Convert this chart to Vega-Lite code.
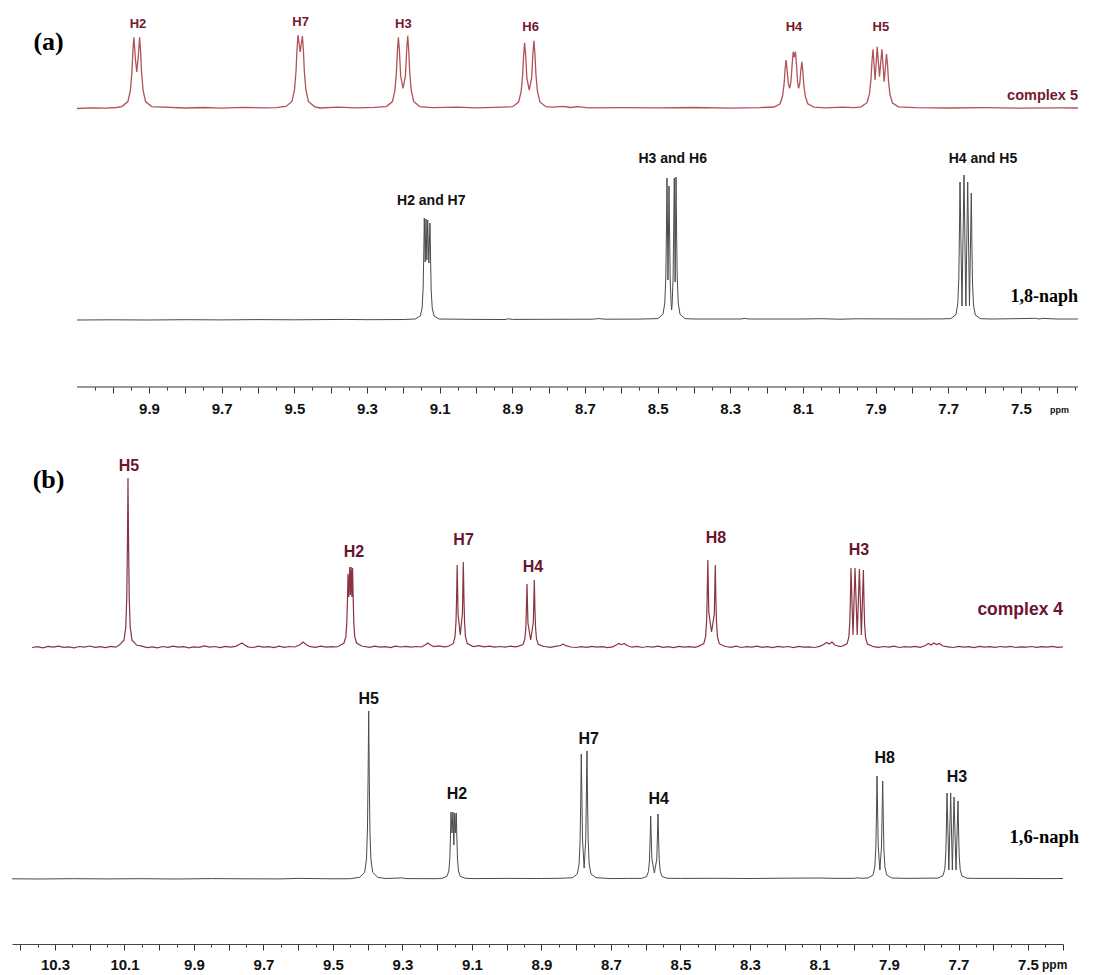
{
  "$schema": "https://vega.github.io/schema/vega-lite/v6.json",
  "background": "white",
  "padding": {"left": 10, "top": 8, "right": 0, "bottom": 0},
  "bounds": "flush",
  "spacing": 68,
  "config": {"view": {"stroke": null}},
  "datasets": {
    "c5": [
      {"ppm":10.0982,"intensity":276.5},{"ppm":10.06,"intensity":277.2},{"ppm":10.02,"intensity":276.8},{"ppm":9.99,"intensity":277.5},
      {"ppm":9.9746,"intensity":278.4},{"ppm":9.9581,"intensity":283.4},{"ppm":9.9512,"intensity":294.7},{"ppm":9.9471,"intensity":312.4},{"ppm":9.9444,"intensity":333.6},{"ppm":9.9416,"intensity":347.7},{"ppm":9.9376,"intensity":327},{"ppm":9.9337,"intensity":313},{"ppm":9.9298,"intensity":327},{"ppm":9.9259,"intensity":347.7},{"ppm":9.9231,"intensity":333.6},{"ppm":9.9204,"intensity":312.4},{"ppm":9.9163,"intensity":294.7},{"ppm":9.9094,"intensity":283.4},{"ppm":9.8929,"intensity":278.4},
      {"ppm":9.8,"intensity":277},{"ppm":9.75,"intensity":277.5},{"ppm":9.7,"intensity":276.8},{"ppm":9.64,"intensity":277.6},{"ppm":9.58,"intensity":277.1},{"ppm":9.55,"intensity":277.4},
      {"ppm":9.5229,"intensity":278.5},{"ppm":9.5064,"intensity":283.6},{"ppm":9.4995,"intensity":295},{"ppm":9.4954,"intensity":313.5},{"ppm":9.4927,"intensity":335},{"ppm":9.4899,"intensity":350},{"ppm":9.4838,"intensity":333},{"ppm":9.4778,"intensity":349},{"ppm":9.475,"intensity":334.6},{"ppm":9.4723,"intensity":313},{"ppm":9.4682,"intensity":295},{"ppm":9.4613,"intensity":283.5},{"ppm":9.4448,"intensity":278.4},
      {"ppm":9.43,"intensity":277},{"ppm":9.38,"intensity":277.8},{"ppm":9.33,"intensity":277.2},{"ppm":9.28,"intensity":277.6},
      {"ppm":9.2465,"intensity":278.4},{"ppm":9.23,"intensity":283.4},{"ppm":9.2231,"intensity":294.7},{"ppm":9.219,"intensity":312.4},{"ppm":9.2163,"intensity":333.6},{"ppm":9.2135,"intensity":347.7},{"ppm":9.2107,"intensity":334},{"ppm":9.2072,"intensity":309},{"ppm":9.2007,"intensity":296.7},{"ppm":9.1942,"intensity":309},{"ppm":9.1907,"intensity":335},{"ppm":9.1879,"intensity":349.3},{"ppm":9.1851,"intensity":334.8},{"ppm":9.1824,"intensity":313},{"ppm":9.1783,"intensity":295},{"ppm":9.1714,"intensity":283.5},{"ppm":9.1549,"intensity":278.4},
      {"ppm":9.12,"intensity":277.3},{"ppm":9.05,"intensity":277.9},{"ppm":9.0,"intensity":277.2},{"ppm":8.95,"intensity":277.6},
      {"ppm":8.8991,"intensity":278.3},{"ppm":8.8826,"intensity":282.9},{"ppm":8.8757,"intensity":293.3},{"ppm":8.8716,"intensity":309.7},{"ppm":8.8689,"intensity":329.2},{"ppm":8.8661,"intensity":342.3},{"ppm":8.8633,"intensity":329.6},{"ppm":8.8598,"intensity":306.5},{"ppm":8.8533,"intensity":295},{"ppm":8.8468,"intensity":307},{"ppm":8.8433,"intensity":331},{"ppm":8.8405,"intensity":344.3},{"ppm":8.8377,"intensity":330.8},{"ppm":8.835,"intensity":310.7},{"ppm":8.8309,"intensity":293.8},{"ppm":8.824,"intensity":283},{"ppm":8.8075,"intensity":278.3},
      {"ppm":8.79,"intensity":277.8},{"ppm":8.76,"intensity":278.6},{"ppm":8.74,"intensity":277.5},{"ppm":8.72,"intensity":278.3},{"ppm":8.69,"intensity":277.2},{"ppm":8.6,"intensity":277.4},{"ppm":8.5,"intensity":277.1},{"ppm":8.4,"intensity":277.5},{"ppm":8.3,"intensity":276.9},{"ppm":8.22,"intensity":277.4},
      {"ppm":8.1794,"intensity":278},{"ppm":8.1629,"intensity":281.3},{"ppm":8.156,"intensity":289},{"ppm":8.1519,"intensity":301},{"ppm":8.1492,"intensity":315.4},{"ppm":8.1464,"intensity":325},{"ppm":8.1436,"intensity":315},{"ppm":8.1401,"intensity":301},{"ppm":8.1366,"intensity":296.7},{"ppm":8.1331,"intensity":303},{"ppm":8.1296,"intensity":321},{"ppm":8.1268,"intensity":333.3},{"ppm":8.1238,"intensity":328},{"ppm":8.1207,"intensity":333.3},{"ppm":8.1179,"intensity":321},{"ppm":8.1149,"intensity":303},{"ppm":8.1119,"intensity":296.7},{"ppm":8.1089,"intensity":301},{"ppm":8.1059,"intensity":314},{"ppm":8.1031,"intensity":323.3},{"ppm":8.1003,"intensity":314},{"ppm":8.0976,"intensity":300},{"ppm":8.0935,"intensity":288.6},{"ppm":8.0866,"intensity":281.2},{"ppm":8.0701,"intensity":277.9},
      {"ppm":8.04,"intensity":277.2},{"ppm":7.99,"intensity":277.9},{"ppm":7.96,"intensity":277.3},
      {"ppm":7.9401,"intensity":278.2},{"ppm":7.9236,"intensity":282.3},{"ppm":7.9167,"intensity":291.7},{"ppm":7.9126,"intensity":306.4},{"ppm":7.9099,"intensity":324},{"ppm":7.9071,"intensity":335.7},{"ppm":7.9014,"intensity":305},{"ppm":7.8956,"intensity":338.3},{"ppm":7.8892,"intensity":308.3},{"ppm":7.8827,"intensity":335.7},{"ppm":7.8764,"intensity":303.3},{"ppm":7.87,"intensity":331},{"ppm":7.8672,"intensity":320.2},{"ppm":7.8645,"intensity":304},{"ppm":7.8604,"intensity":290.5},{"ppm":7.8535,"intensity":281.9},{"ppm":7.837,"intensity":278.1},
      {"ppm":7.79,"intensity":277.4},{"ppm":7.7,"intensity":277},{"ppm":7.6,"intensity":277.3},{"ppm":7.5,"intensity":276.9},{"ppm":7.4,"intensity":277.2},{"ppm":7.3429,"intensity":277}
    ],
    "n18": [
      {"ppm":10.0982,"intensity":65},{"ppm":10.0,"intensity":65.2},{"ppm":9.9,"intensity":65},{"ppm":9.8,"intensity":65.3},{"ppm":9.7,"intensity":65.1},{"ppm":9.6,"intensity":65.4},{"ppm":9.5,"intensity":65.2},{"ppm":9.36,"intensity":65.6},{"ppm":9.3,"intensity":65.3},{"ppm":9.2,"intensity":65.5},
      {"ppm":9.1672,"intensity":66},{"ppm":9.1532,"intensity":69},{"ppm":9.1483,"intensity":77},{"ppm":9.1455,"intensity":96},{"ppm":9.1439,"intensity":126},{"ppm":9.1422,"intensity":167},{"ppm":9.1398,"intensity":123},{"ppm":9.1375,"intensity":166},{"ppm":9.1352,"intensity":125},{"ppm":9.1329,"intensity":165},{"ppm":9.1297,"intensity":122},{"ppm":9.1265,"intensity":162},{"ppm":9.1248,"intensity":123},{"ppm":9.1232,"intensity":94},{"ppm":9.1204,"intensity":77},{"ppm":9.1155,"intensity":69},{"ppm":9.1015,"intensity":66},
      {"ppm":9.0,"intensity":65.6},{"ppm":8.92,"intensity":65.5},{"ppm":8.91,"intensity":66.2},{"ppm":8.9,"intensity":65.6},{"ppm":8.8,"intensity":65.7},{"ppm":8.68,"intensity":65.8},{"ppm":8.662,"intensity":66.4},{"ppm":8.645,"intensity":65.8},{"ppm":8.55,"intensity":65.9},
      {"ppm":8.4992,"intensity":66.4},{"ppm":8.4852,"intensity":70.7},{"ppm":8.4803,"intensity":82},{"ppm":8.4775,"intensity":108},{"ppm":8.4759,"intensity":150},{"ppm":8.4742,"intensity":207},{"ppm":8.4715,"intensity":105},{"ppm":8.4687,"intensity":199},{"ppm":8.4654,"intensity":105},{"ppm":8.4628,"intensity":81},{"ppm":8.4614,"intensity":75},{"ppm":8.46,"intensity":81},{"ppm":8.4574,"intensity":108},{"ppm":8.4541,"intensity":207},{"ppm":8.4518,"intensity":103},{"ppm":8.4494,"intensity":208},{"ppm":8.4477,"intensity":151},{"ppm":8.4461,"intensity":108},{"ppm":8.4433,"intensity":82},{"ppm":8.4384,"intensity":70.7},{"ppm":8.4244,"intensity":66.4},
      {"ppm":8.4,"intensity":66},{"ppm":8.3,"intensity":66},{"ppm":8.27,"intensity":66},{"ppm":8.26,"intensity":66.6},{"ppm":8.25,"intensity":66},{"ppm":8.1,"intensity":66},{"ppm":8.05,"intensity":66.3},{"ppm":8.0,"intensity":65.8},{"ppm":7.95,"intensity":66.2},{"ppm":7.8,"intensity":66},{"ppm":7.72,"intensity":66.1},
      {"ppm":7.6927,"intensity":66.4},{"ppm":7.6787,"intensity":70.5},{"ppm":7.6738,"intensity":81.6},{"ppm":7.671,"intensity":106},{"ppm":7.6694,"intensity":148},{"ppm":7.6677,"intensity":203},{"ppm":7.6622,"intensity":79},{"ppm":7.6567,"intensity":210},{"ppm":7.6516,"intensity":79},{"ppm":7.6465,"intensity":203},{"ppm":7.6416,"intensity":79},{"ppm":7.6366,"intensity":192},{"ppm":7.6349,"intensity":141},{"ppm":7.6333,"intensity":103},{"ppm":7.6305,"intensity":80},{"ppm":7.6256,"intensity":70},{"ppm":7.6116,"intensity":66.3},
      {"ppm":7.58,"intensity":66},{"ppm":7.5,"intensity":66.4},{"ppm":7.46,"intensity":66.7},{"ppm":7.45,"intensity":66},{"ppm":7.44,"intensity":66.6},{"ppm":7.4,"intensity":66},{"ppm":7.3429,"intensity":66}
    ],
    "c4": [
      {"ppm":10.366,"intensity":296.5},{"ppm":10.35,"intensity":297.3},{"ppm":10.335,"intensity":296.2},{"ppm":10.32,"intensity":297.6},{"ppm":10.305,"intensity":296.8},{"ppm":10.29,"intensity":297.9},{"ppm":10.275,"intensity":296.6},{"ppm":10.26,"intensity":297.2},{"ppm":10.245,"intensity":296.1},{"ppm":10.23,"intensity":297.5},{"ppm":10.215,"intensity":296.9},{"ppm":10.2,"intensity":298},{"ppm":10.185,"intensity":296.7},{"ppm":10.17,"intensity":297.4},{"ppm":10.155,"intensity":296.3},{"ppm":10.14,"intensity":297.6},{"ppm":10.125,"intensity":296.8},
      {"ppm":10.1159,"intensity":298.7},{"ppm":10.1014,"intensity":303.8},{"ppm":10.0962,"intensity":317},{"ppm":10.0934,"intensity":347},{"ppm":10.0916,"intensity":398},{"ppm":10.0899,"intensity":466},{"ppm":10.0882,"intensity":398},{"ppm":10.0864,"intensity":347},{"ppm":10.0836,"intensity":317},{"ppm":10.0784,"intensity":303.8},{"ppm":10.0639,"intensity":298.7},
      {"ppm":10.05,"intensity":297.8},{"ppm":10.035,"intensity":296.4},{"ppm":10.02,"intensity":297.1},{"ppm":10.005,"intensity":296.2},{"ppm":9.99,"intensity":297.5},{"ppm":9.975,"intensity":296.6},{"ppm":9.96,"intensity":297.9},{"ppm":9.945,"intensity":296.8},{"ppm":9.93,"intensity":297.3},{"ppm":9.915,"intensity":296.1},{"ppm":9.9,"intensity":297.2},{"ppm":9.885,"intensity":296.7},{"ppm":9.87,"intensity":298.1},{"ppm":9.855,"intensity":296.9},{"ppm":9.84,"intensity":297.5},{"ppm":9.825,"intensity":296.4},{"ppm":9.81,"intensity":297.7},{"ppm":9.795,"intensity":296.9},{"ppm":9.78,"intensity":297.6},{"ppm":9.77,"intensity":299.5},{"ppm":9.762,"intensity":301},{"ppm":9.754,"intensity":299},{"ppm":9.745,"intensity":297.2},{"ppm":9.73,"intensity":296.5},{"ppm":9.715,"intensity":297.8},{"ppm":9.7,"intensity":296.9},{"ppm":9.685,"intensity":297.4},{"ppm":9.67,"intensity":296.3},{"ppm":9.655,"intensity":297.8},{"ppm":9.64,"intensity":296.7},{"ppm":9.625,"intensity":297.5},{"ppm":9.61,"intensity":297},{"ppm":9.596,"intensity":299},{"ppm":9.586,"intensity":302},{"ppm":9.576,"intensity":299},{"ppm":9.565,"intensity":297.3},{"ppm":9.55,"intensity":296.6},{"ppm":9.535,"intensity":297.8},{"ppm":9.52,"intensity":296.9},{"ppm":9.505,"intensity":297.4},{"ppm":9.49,"intensity":297},
      {"ppm":9.4828,"intensity":298},{"ppm":9.4683,"intensity":301},{"ppm":9.4631,"intensity":307},{"ppm":9.4603,"intensity":321},{"ppm":9.4585,"intensity":342},{"ppm":9.4568,"intensity":370},{"ppm":9.4544,"intensity":347},{"ppm":9.4519,"intensity":377},{"ppm":9.4498,"intensity":349},{"ppm":9.4476,"intensity":377},{"ppm":9.4456,"intensity":347},{"ppm":9.4436,"intensity":376},{"ppm":9.4419,"intensity":345},{"ppm":9.4401,"intensity":321},{"ppm":9.4373,"intensity":307},{"ppm":9.4321,"intensity":301},{"ppm":9.4176,"intensity":298},
      {"ppm":9.41,"intensity":297.5},{"ppm":9.395,"intensity":296.6},{"ppm":9.38,"intensity":297.8},{"ppm":9.365,"intensity":296.9},{"ppm":9.35,"intensity":297.3},{"ppm":9.335,"intensity":296.4},{"ppm":9.32,"intensity":297.9},{"ppm":9.305,"intensity":297},{"ppm":9.29,"intensity":297.6},{"ppm":9.275,"intensity":296.8},{"ppm":9.26,"intensity":297.5},{"ppm":9.245,"intensity":297},{"ppm":9.235,"intensity":299},{"ppm":9.227,"intensity":301},{"ppm":9.219,"intensity":299},{"ppm":9.21,"intensity":297.4},{"ppm":9.195,"intensity":298.2},{"ppm":9.18,"intensity":297.1},{"ppm":9.17,"intensity":297.6},
      {"ppm":9.1686,"intensity":297.8},{"ppm":9.1541,"intensity":300.3},{"ppm":9.1489,"intensity":307},{"ppm":9.1461,"intensity":322},{"ppm":9.1443,"intensity":346},{"ppm":9.1426,"intensity":379},{"ppm":9.1401,"intensity":330},{"ppm":9.1338,"intensity":309},{"ppm":9.1275,"intensity":331},{"ppm":9.125,"intensity":382},{"ppm":9.1233,"intensity":348},{"ppm":9.1215,"intensity":322.5},{"ppm":9.1187,"intensity":307},{"ppm":9.1135,"intensity":300.4},{"ppm":9.099,"intensity":297.9},
      {"ppm":9.095,"intensity":297.3},{"ppm":9.08,"intensity":298.4},{"ppm":9.065,"intensity":297.2},{"ppm":9.05,"intensity":297.9},{"ppm":9.035,"intensity":296.8},{"ppm":9.02,"intensity":297.5},{"ppm":9.005,"intensity":296.9},{"ppm":8.99,"intensity":297.8},{"ppm":8.975,"intensity":297.1},
      {"ppm":8.9677,"intensity":297.6},{"ppm":8.9532,"intensity":299.5},{"ppm":8.948,"intensity":304.6},{"ppm":8.9452,"intensity":316},{"ppm":8.9434,"intensity":335},{"ppm":8.9417,"intensity":360},{"ppm":8.939,"intensity":321},{"ppm":8.9312,"intensity":304},{"ppm":8.9234,"intensity":322},{"ppm":8.9207,"intensity":364},{"ppm":8.919,"intensity":337},{"ppm":8.9172,"intensity":317},{"ppm":8.9144,"intensity":305},{"ppm":8.9092,"intensity":299.7},{"ppm":8.8947,"intensity":297.7},
      {"ppm":8.89,"intensity":297.5},{"ppm":8.875,"intensity":296.7},{"ppm":8.86,"intensity":297.6},{"ppm":8.845,"intensity":298.5},{"ppm":8.838,"intensity":300},{"ppm":8.83,"intensity":298.3},{"ppm":8.815,"intensity":297},{"ppm":8.8,"intensity":296.5},{"ppm":8.785,"intensity":297.3},{"ppm":8.77,"intensity":296.6},{"ppm":8.755,"intensity":297.7},{"ppm":8.74,"intensity":296.8},{"ppm":8.725,"intensity":297.4},{"ppm":8.71,"intensity":296.4},{"ppm":8.695,"intensity":297.2},{"ppm":8.685,"intensity":299},{"ppm":8.677,"intensity":300.5},{"ppm":8.67,"intensity":299.3},{"ppm":8.662,"intensity":300.5},{"ppm":8.654,"intensity":298.5},{"ppm":8.64,"intensity":296.8},{"ppm":8.625,"intensity":297.6},{"ppm":8.61,"intensity":296.5},{"ppm":8.595,"intensity":297.5},{"ppm":8.58,"intensity":296.8},{"ppm":8.565,"intensity":297.9},{"ppm":8.55,"intensity":296.7},{"ppm":8.535,"intensity":297.4},{"ppm":8.52,"intensity":296.3},{"ppm":8.505,"intensity":297.6},{"ppm":8.49,"intensity":296.9},{"ppm":8.475,"intensity":297.3},{"ppm":8.46,"intensity":296.6},{"ppm":8.45,"intensity":297.4},
      {"ppm":8.4474,"intensity":297.9},{"ppm":8.4329,"intensity":300.5},{"ppm":8.4277,"intensity":307.4},{"ppm":8.4249,"intensity":323},{"ppm":8.4231,"intensity":349},{"ppm":8.4214,"intensity":384},{"ppm":8.4186,"intensity":332},{"ppm":8.4107,"intensity":312},{"ppm":8.4027,"intensity":330},{"ppm":8.3999,"intensity":379},{"ppm":8.3982,"intensity":346},{"ppm":8.3964,"intensity":322},{"ppm":8.3936,"intensity":307},{"ppm":8.3884,"intensity":300.3},{"ppm":8.3739,"intensity":297.8},
      {"ppm":8.37,"intensity":297.5},{"ppm":8.355,"intensity":296.7},{"ppm":8.34,"intensity":297.8},{"ppm":8.325,"intensity":296.5},{"ppm":8.31,"intensity":297.3},{"ppm":8.295,"intensity":296.8},{"ppm":8.28,"intensity":297.9},{"ppm":8.265,"intensity":296.6},{"ppm":8.25,"intensity":297.4},{"ppm":8.235,"intensity":296.3},{"ppm":8.22,"intensity":297.6},{"ppm":8.205,"intensity":296.9},{"ppm":8.19,"intensity":297.5},{"ppm":8.175,"intensity":296.4},{"ppm":8.16,"intensity":297.7},{"ppm":8.145,"intensity":296.8},{"ppm":8.13,"intensity":297.2},{"ppm":8.115,"intensity":296.5},{"ppm":8.1,"intensity":297.6},{"ppm":8.088,"intensity":299.5},{"ppm":8.08,"intensity":301.5},{"ppm":8.072,"intensity":300},{"ppm":8.064,"intensity":302},{"ppm":8.056,"intensity":299},{"ppm":8.045,"intensity":297.8},{"ppm":8.038,"intensity":297.5},
      {"ppm":8.0354,"intensity":297.8},{"ppm":8.0209,"intensity":300.2},{"ppm":8.0157,"intensity":306.5},{"ppm":8.0129,"intensity":321},{"ppm":8.0111,"intensity":344},{"ppm":8.0094,"intensity":376},{"ppm":8.0036,"intensity":309},{"ppm":7.9978,"intensity":376},{"ppm":7.9915,"intensity":309},{"ppm":7.9852,"intensity":375},{"ppm":7.9795,"intensity":309},{"ppm":7.9737,"intensity":374},{"ppm":7.972,"intensity":343},{"ppm":7.9702,"intensity":320},{"ppm":7.9674,"intensity":306},{"ppm":7.9622,"intensity":300},{"ppm":7.9477,"intensity":297.8},
      {"ppm":7.945,"intensity":297.4},{"ppm":7.93,"intensity":296.6},{"ppm":7.915,"intensity":297.5},{"ppm":7.9,"intensity":296.8},{"ppm":7.885,"intensity":297.9},{"ppm":7.87,"intensity":296.5},{"ppm":7.855,"intensity":297.3},{"ppm":7.84,"intensity":296.9},{"ppm":7.825,"intensity":297.6},{"ppm":7.81,"intensity":296.7},{"ppm":7.795,"intensity":298.5},{"ppm":7.787,"intensity":300.5},{"ppm":7.779,"intensity":299},{"ppm":7.771,"intensity":301},{"ppm":7.763,"intensity":299.5},{"ppm":7.755,"intensity":300.5},{"ppm":7.745,"intensity":298},{"ppm":7.73,"intensity":297.2},{"ppm":7.715,"intensity":296.5},{"ppm":7.7,"intensity":297.6},{"ppm":7.685,"intensity":296.8},{"ppm":7.67,"intensity":297.4},{"ppm":7.655,"intensity":296.4},{"ppm":7.64,"intensity":297.7},{"ppm":7.625,"intensity":296.9},{"ppm":7.61,"intensity":297.3},{"ppm":7.595,"intensity":296.6},{"ppm":7.58,"intensity":297.5},{"ppm":7.565,"intensity":296.8},{"ppm":7.55,"intensity":297.6},{"ppm":7.535,"intensity":296.5},{"ppm":7.52,"intensity":297.2},{"ppm":7.505,"intensity":296.8},{"ppm":7.49,"intensity":297.5},{"ppm":7.475,"intensity":296.6},{"ppm":7.46,"intensity":297.3},{"ppm":7.445,"intensity":296.9},{"ppm":7.43,"intensity":297.6},{"ppm":7.415,"intensity":296.7},{"ppm":7.3993,"intensity":297.2}
    ],
    "n16": [
      {"ppm":10.4237,"intensity":65.2},{"ppm":10.35,"intensity":65},{"ppm":10.25,"intensity":65.3},{"ppm":10.15,"intensity":65.1},{"ppm":10.05,"intensity":65.3},{"ppm":9.95,"intensity":65},{"ppm":9.85,"intensity":65.4},{"ppm":9.75,"intensity":65.2},{"ppm":9.65,"intensity":65.1},{"ppm":9.6,"intensity":65.6},{"ppm":9.5,"intensity":65.2},{"ppm":9.45,"intensity":65.3},
      {"ppm":9.4233,"intensity":66.7},{"ppm":9.4088,"intensity":71.7},{"ppm":9.4036,"intensity":85},{"ppm":9.4008,"intensity":115},{"ppm":9.399,"intensity":166},{"ppm":9.3973,"intensity":233},{"ppm":9.3956,"intensity":166},{"ppm":9.3938,"intensity":115},{"ppm":9.391,"intensity":85},{"ppm":9.3858,"intensity":71.7},{"ppm":9.3713,"intensity":66.7},
      {"ppm":9.35,"intensity":65.5},{"ppm":9.3,"intensity":66.1},{"ppm":9.29,"intensity":65.4},{"ppm":9.2,"intensity":65.3},
      {"ppm":9.1864,"intensity":65.7},{"ppm":9.1719,"intensity":67.7},{"ppm":9.1667,"intensity":73},{"ppm":9.1639,"intensity":85},{"ppm":9.1621,"intensity":105},{"ppm":9.1604,"intensity":132},{"ppm":9.1575,"intensity":111},{"ppm":9.1547,"intensity":132},{"ppm":9.1522,"intensity":99},{"ppm":9.1498,"intensity":131},{"ppm":9.1475,"intensity":111},{"ppm":9.1452,"intensity":131},{"ppm":9.1435,"intensity":105},{"ppm":9.1417,"intensity":85},{"ppm":9.1389,"intensity":73},{"ppm":9.1337,"intensity":67.6},{"ppm":9.1192,"intensity":65.7},
      {"ppm":9.1,"intensity":65.4},{"ppm":9.0,"intensity":65.6},{"ppm":8.9,"intensity":65.5},{"ppm":8.85,"intensity":65.7},
      {"ppm":8.8115,"intensity":66.2},{"ppm":8.797,"intensity":70},{"ppm":8.7918,"intensity":80},{"ppm":8.789,"intensity":102.5},{"ppm":8.7872,"intensity":140},{"ppm":8.7855,"intensity":190},{"ppm":8.782,"intensity":105},{"ppm":8.7773,"intensity":76},{"ppm":8.7726,"intensity":105},{"ppm":8.7691,"intensity":193},{"ppm":8.7674,"intensity":142},{"ppm":8.7656,"intensity":103},{"ppm":8.7628,"intensity":80},{"ppm":8.7576,"intensity":70},{"ppm":8.7431,"intensity":66.3},
      {"ppm":8.7,"intensity":65.4},{"ppm":8.65,"intensity":65.6},
      {"ppm":8.6118,"intensity":65.6},{"ppm":8.5973,"intensity":67.5},{"ppm":8.5921,"intensity":72.6},{"ppm":8.5893,"intensity":84},{"ppm":8.5875,"intensity":103},{"ppm":8.5858,"intensity":128},{"ppm":8.5823,"intensity":85},{"ppm":8.5752,"intensity":71},{"ppm":8.5682,"intensity":85},{"ppm":8.5647,"intensity":130},{"ppm":8.563,"intensity":104},{"ppm":8.5612,"intensity":84.5},{"ppm":8.5584,"intensity":72.8},{"ppm":8.5532,"intensity":67.6},{"ppm":8.5387,"intensity":65.7},
      {"ppm":8.5,"intensity":65.6},{"ppm":8.4,"intensity":65.7},{"ppm":8.3,"intensity":65.5},{"ppm":8.2,"intensity":65.8},{"ppm":8.1,"intensity":66},{"ppm":8.05,"intensity":65.6},{"ppm":8.0,"intensity":65.7},{"ppm":7.99,"intensity":66.2},{"ppm":7.98,"intensity":65.7},
      {"ppm":7.9605,"intensity":66},{"ppm":7.946,"intensity":69},{"ppm":7.9408,"intensity":77},{"ppm":7.938,"intensity":96},{"ppm":7.9362,"intensity":127},{"ppm":7.9345,"intensity":168},{"ppm":7.931,"intensity":98},{"ppm":7.9263,"intensity":74},{"ppm":7.9216,"intensity":97},{"ppm":7.9181,"intensity":163},{"ppm":7.9164,"intensity":124},{"ppm":7.9146,"intensity":94},{"ppm":7.9118,"intensity":77},{"ppm":7.9066,"intensity":69},{"ppm":7.8921,"intensity":66},
      {"ppm":7.85,"intensity":65.6},{"ppm":7.8,"intensity":65.8},
      {"ppm":7.7591,"intensity":65.9},{"ppm":7.7446,"intensity":68.4},{"ppm":7.7394,"intensity":75},{"ppm":7.7366,"intensity":91},{"ppm":7.7348,"intensity":117},{"ppm":7.7331,"intensity":151},{"ppm":7.7278,"intensity":74},{"ppm":7.7225,"intensity":151},{"ppm":7.7177,"intensity":74},{"ppm":7.7129,"intensity":147},{"ppm":7.7072,"intensity":74},{"ppm":7.7014,"intensity":143},{"ppm":7.6997,"intensity":112},{"ppm":7.6979,"intensity":88},{"ppm":7.6951,"intensity":74},{"ppm":7.6899,"intensity":68},{"ppm":7.6754,"intensity":65.8},
      {"ppm":7.65,"intensity":65.6},{"ppm":7.55,"intensity":65.6},{"ppm":7.45,"intensity":65.4},{"ppm":7.3993,"intensity":65.5}
    ]
  },
  "vconcat": [
    {
      "width": 1066,
      "height": 379,
      "encoding": {
        "x": {
          "field": "ppm", "type": "quantitative",
          "scale": {"domain": [7.3429, 10.2771], "reverse": true, "nice": false, "zero": false},
          "axis": {
            "values": [10.05,10.0,9.95,9.9,9.85,9.8,9.75,9.7,9.65,9.6,9.55,9.5,9.45,9.4,9.35,9.3,9.25,9.2,9.15,9.1,9.05,9.0,8.95,8.9,8.85,8.8,8.75,8.7,8.65,8.6,8.55,8.5,8.45,8.4,8.35,8.3,8.25,8.2,8.15,8.1,8.05,8.0,7.95,7.9,7.85,7.8,7.75,7.7,7.65,7.6,7.55,7.5,7.45,7.4,7.35],
            "domain": false, "grid": false, "title": null,
            "labelExpr": "round(datum.value*20)%4==2 ? format(datum.value,'.1f') : ''",
            "labelFont": "Liberation Sans", "labelFontWeight": "bold", "labelFontSize": 15, "labelColor": "#111",
            "labelOverlap": false, "labelFlush": false, "labelBound": false, "labelPadding": 8,
            "tickColor": "#333", "tickWidth": 1,
            "tickSize": {"condition": {"test": "round(datum.value*20)%2==0", "value": 6}, "value": 3}
          }
        },
        "y": {"field": "intensity", "type": "quantitative", "scale": {"domain": [-2, 377], "nice": false, "zero": false}, "axis": null}
      },
      "layer": [
        {
          "data": {"values": [{"ppm": 10.0982, "ppmEnd": 7.3429, "intensity": -2}]},
          "mark": {"type": "rule", "color": "#333", "strokeWidth": 1},
          "encoding": {"x2": {"field": "ppmEnd"}}
        },
        {"data": {"name": "c5"}, "mark": {"type": "line", "color": "#b05256", "strokeWidth": 1.3}},
        {"data": {"name": "n18"}, "mark": {"type": "line", "color": "#4a4a4a", "strokeWidth": 1}},
        {
          "data": {"values": [{"label": "(a)", "ppm": 10.1764, "intensity": 343.3}]},
          "mark": {"type": "text", "font": "Liberation Serif", "fontWeight": "bold", "fontSize": 26, "color": "#000"},
          "encoding": {"text": {"field": "label"}}
        },
        {
          "data": {"values": [
            {"label": "H2", "ppm": 9.9303, "intensity": 361},
            {"label": "H7", "ppm": 9.4827, "intensity": 363.3},
            {"label": "H3", "ppm": 9.1998, "intensity": 361},
            {"label": "H6", "ppm": 8.8494, "intensity": 357.7},
            {"label": "H4", "ppm": 8.1246, "intensity": 357.7},
            {"label": "H5", "ppm": 7.8857, "intensity": 357.7}
          ]},
          "mark": {"type": "text", "font": "Liberation Sans", "fontWeight": "bold", "fontSize": 13, "color": "#74192e"},
          "encoding": {"text": {"field": "label"}}
        },
        {
          "data": {"values": [{"label": "complex 5", "ppm": 7.3429, "intensity": 289}]},
          "mark": {"type": "text", "font": "Liberation Sans", "fontWeight": "bold", "fontSize": 14.5, "color": "#74192e", "align": "right"},
          "encoding": {"text": {"field": "label"}}
        },
        {
          "data": {"values": [
            {"label": "H2 and H7", "ppm": 9.123, "intensity": 184},
            {"label": "H3 and H6", "ppm": 8.4585, "intensity": 225.7},
            {"label": "H4 and H5", "ppm": 7.6045, "intensity": 226}
          ]},
          "mark": {"type": "text", "font": "Liberation Sans", "fontWeight": "bold", "fontSize": 14, "color": "#111"},
          "encoding": {"text": {"field": "label"}}
        },
        {
          "data": {"values": [{"label": "1,8-naph", "ppm": 7.3429, "intensity": 88}]},
          "mark": {"type": "text", "font": "Liberation Serif", "fontWeight": "bold", "fontSize": 18, "color": "#000", "align": "right"},
          "encoding": {"text": {"field": "label"}}
        },
        {
          "data": {"values": [{"label": "ppm", "ppm": 7.4199, "intensity": -25}]},
          "mark": {"type": "text", "font": "Liberation Sans", "fontWeight": "bold", "fontSize": 9, "color": "#111", "align": "left"},
          "encoding": {"text": {"field": "label"}}
        }
      ]
    },
    {
      "width": 1051,
      "height": 489,
      "encoding": {
        "x": {
          "field": "ppm", "type": "quantitative",
          "scale": {"domain": [7.3993, 10.4237], "reverse": true, "nice": false, "zero": false},
          "axis": {
            "values": [10.4,10.35,10.3,10.25,10.2,10.15,10.1,10.05,10.0,9.95,9.9,9.85,9.8,9.75,9.7,9.65,9.6,9.55,9.5,9.45,9.4,9.35,9.3,9.25,9.2,9.15,9.1,9.05,9.0,8.95,8.9,8.85,8.8,8.75,8.7,8.65,8.6,8.55,8.5,8.45,8.4,8.35,8.3,8.25,8.2,8.15,8.1,8.05,8.0,7.95,7.9,7.85,7.8,7.75,7.7,7.65,7.6,7.55,7.5,7.45,7.4],
            "domain": true, "domainColor": "#444", "domainWidth": 1, "grid": false, "title": null,
            "labelExpr": "round(datum.value*20)%4==2 ? format(datum.value,'.1f') : ''",
            "labelFont": "Liberation Sans", "labelFontWeight": "bold", "labelFontSize": 15, "labelColor": "#111",
            "labelOverlap": false, "labelFlush": false, "labelBound": false, "labelPadding": 7,
            "tickColor": "#333", "tickWidth": 1,
            "tickSize": {"condition": {"test": "round(datum.value*20)%2==0", "value": 6}, "value": 3}
          }
        },
        "y": {"field": "intensity", "type": "quantitative", "scale": {"domain": [0, 489], "nice": false, "zero": false}, "axis": null}
      },
      "layer": [
        {"data": {"name": "c4"}, "mark": {"type": "line", "color": "#8a3440", "strokeWidth": 1.2}},
        {"data": {"name": "n16"}, "mark": {"type": "line", "color": "#4a4a4a", "strokeWidth": 1}},
        {
          "data": {"values": [{"label": "(b)", "ppm": 10.3184, "intensity": 464}]},
          "mark": {"type": "text", "font": "Liberation Serif", "fontWeight": "bold", "fontSize": 26, "color": "#000"},
          "encoding": {"text": {"field": "label"}}
        },
        {
          "data": {"values": [
            {"label": "H5", "ppm": 10.0871, "intensity": 478},
            {"label": "H2", "ppm": 9.4396, "intensity": 392},
            {"label": "H7", "ppm": 9.1242, "intensity": 404},
            {"label": "H4", "ppm": 8.9245, "intensity": 377},
            {"label": "H8", "ppm": 8.3978, "intensity": 406},
            {"label": "H3", "ppm": 7.9863, "intensity": 394}
          ]},
          "mark": {"type": "text", "font": "Liberation Sans", "fontWeight": "bold", "fontSize": 16, "color": "#6b1530"},
          "encoding": {"text": {"field": "label"}}
        },
        {
          "data": {"values": [{"label": "complex 4", "ppm": 7.3993, "intensity": 334}]},
          "mark": {"type": "text", "font": "Liberation Sans", "fontWeight": "bold", "fontSize": 17.5, "color": "#6b1530", "align": "right"},
          "encoding": {"text": {"field": "label"}}
        },
        {
          "data": {"values": [
            {"label": "H5", "ppm": 9.3973, "intensity": 244.7},
            {"label": "H2", "ppm": 9.1432, "intensity": 150},
            {"label": "H7", "ppm": 8.7642, "intensity": 204.7},
            {"label": "H4", "ppm": 8.5627, "intensity": 144.7},
            {"label": "H8", "ppm": 7.9124, "intensity": 185.7},
            {"label": "H3", "ppm": 7.7043, "intensity": 167.3}
          ]},
          "mark": {"type": "text", "font": "Liberation Sans", "fontWeight": "bold", "fontSize": 16, "color": "#111"},
          "encoding": {"text": {"field": "label"}}
        },
        {
          "data": {"values": [{"label": "1,6-naph", "ppm": 7.3532, "intensity": 107.3}]},
          "mark": {"type": "text", "font": "Liberation Serif", "fontWeight": "bold", "fontSize": 18.5, "color": "#000", "align": "right"},
          "encoding": {"text": {"field": "label"}}
        },
        {
          "data": {"values": [{"label": "ppm", "ppm": 7.4597, "intensity": -21}]},
          "mark": {"type": "text", "font": "Liberation Sans", "fontWeight": "bold", "fontSize": 12, "color": "#111", "align": "left"},
          "encoding": {"text": {"field": "label"}}
        }
      ]
    }
  ]
}
